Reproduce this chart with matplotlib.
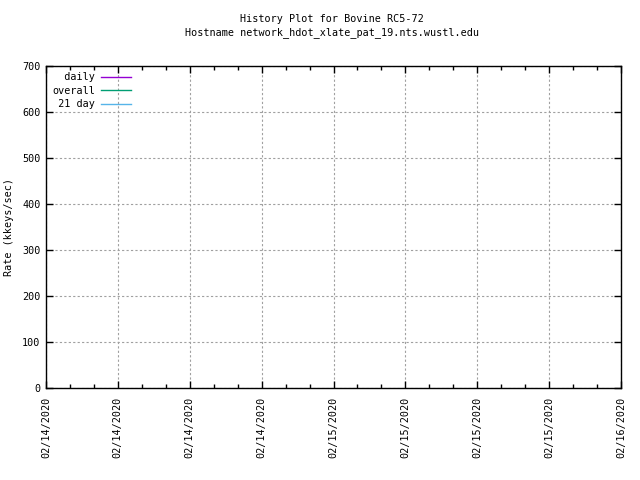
import matplotlib
matplotlib.use("Agg")
import matplotlib.pyplot as plt
import matplotlib.dates as mdates
from matplotlib.ticker import MultipleLocator
import datetime as dt

title_lines = ["History Plot for Bovine RC5-72", "Hostname network_hdot_xlate_pat_19.nts.wustl.edu"]
series_names = ["daily", "overall", "21 day"]
series_colors = ["#9400d3", "#009e73", "#56b4e9"]
daily_x, daily_y = [], []
overall_x, overall_y = [], []
day21_x, day21_y = [], []
x_start = dt.datetime(2020, 2, 14, 0, 0)
x_end = dt.datetime(2020, 2, 16, 0, 0)
y_min, y_max = 0, 700

plt.rcParams['font.family'] = ['DejaVu Sans Mono']
fs = 7.3

fig = plt.figure(figsize=(6.4, 4.8), dpi=100)
ax = fig.add_axes([46/640, 1-388/480, (621-46)/640, (388-66)/480])

labels_padded = [n.rjust(7) for n in series_names]
for (xs, ys), lab, c in zip([(daily_x, daily_y), (overall_x, overall_y), (day21_x, day21_y)], labels_padded, series_colors):
    ax.plot(xs, ys, color=c, lw=1, label=lab)

ax.set_xlim(x_start, x_end)
ax.set_ylim(y_min, y_max)
ax.xaxis.set_major_locator(mdates.HourLocator(byhour=[0, 6, 12, 18]))
ax.xaxis.set_minor_locator(mdates.HourLocator(byhour=range(0, 24, 2)))
ax.xaxis.set_major_formatter(mdates.DateFormatter("%m/%d/%Y"))
ax.yaxis.set_major_locator(MultipleLocator(100))

ax.grid(True, which='major', color='#a0a0a0', linestyle=(0, (2, 2)), lw=0.8)
ax.tick_params(which='both', direction='in', top=True, right=True, labelsize=fs, colors='black')
ax.tick_params(which='major', length=5, width=1)
ax.tick_params(which='minor', length=3, width=1)
ax.tick_params(axis='y', which='minor', left=False, right=False)
for lbl in ax.get_xticklabels():
    lbl.set_rotation(90)
ax.tick_params(axis='x', pad=6)
ax.tick_params(axis='y', pad=4)
for s in ax.spines.values():
    s.set_linewidth(1)

ax.set_ylabel("Rate (kkeys/sec)", fontsize=fs, labelpad=6)

leg = ax.legend(loc='upper left', markerfirst=False, frameon=False, fontsize=fs,
                handlelength=3, handletextpad=0.6, labelspacing=0.35,
                borderaxespad=0.2, bbox_to_anchor=(0.0, 1.0))

fig.text(332/640, 1-19/480, title_lines[0], ha='center', va='center', fontsize=fs)
fig.text(332/640, 1-33/480, title_lines[1], ha='center', va='center', fontsize=fs)

fig.savefig("out.png", dpi=100)
